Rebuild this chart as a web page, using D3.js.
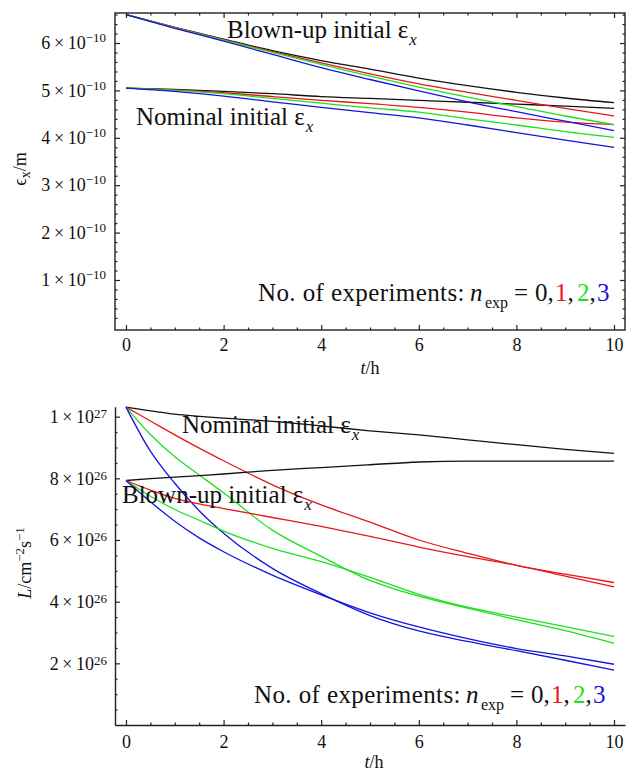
<!DOCTYPE html>
<html lang="en">
<head>
    <meta charset="UTF-8">
    <title>Emittance and luminosity vs. time</title>
    <script src="https://d3js.org/d3.v7.min.js"></script>
    <style>
        body { margin: 0; background: #fff; }
        svg { display: block; font-family: "Liberation Serif", "Times New Roman", serif; }
        .series { fill: none; stroke-width: 1.3px; }
        .frame { fill: none; stroke: #222; stroke-width: 1.4px; }
        .axis .domain { stroke: #222; stroke-width: 1.4px; }
        .axis line { stroke: #222; stroke-width: 1.2px; }
        .axis text { font-size: 18px; fill: #111; }
        .sup { font-size: 13px; }
        .note { font-size: 25px; fill: #111; }
        .legend { font-size: 25px; fill: #111; }
        .sub { font-size: 14px; }
        .title { font-size: 18px; fill: #111; }
    </style>
</head>
<body>
<svg width="626" height="771"></svg>
<script>
    // sample times (h)
    const tTop = [0, 1, 2, 3, 4, 5, 6, 7, 8, 9, 10];
    const tBottom = [0, 0.5, 1, 1.5, 2, 3, 4, 5, 6, 7, 8, 9, 10];

    // horizontal emittance, 1e-10 m, for n_exp = 0..3
    const emitBlown0 = [6.60, 6.33, 6.08, 5.84, 5.63, 5.45, 5.26, 5.10, 4.96, 4.84, 4.74];
    const emitBlown1 = [6.60, 6.33, 6.07, 5.82, 5.58, 5.35, 5.14, 4.96, 4.79, 4.62, 4.46];
    const emitBlown2 = [6.60, 6.32, 6.06, 5.80, 5.55, 5.30, 5.07, 4.86, 4.66, 4.46, 4.28];
    const emitBlown3 = [6.60, 6.31, 6.04, 5.76, 5.48, 5.23, 4.99, 4.76, 4.55, 4.35, 4.15];
    const emitNominal0 = [5.05, 5.02, 4.98, 4.93, 4.87, 4.83, 4.79, 4.75, 4.71, 4.67, 4.62];
    const emitNominal1 = [5.05, 5.01, 4.95, 4.87, 4.79, 4.72, 4.64, 4.54, 4.42, 4.33, 4.28];
    const emitNominal2 = [5.05, 5.00, 4.93, 4.83, 4.73, 4.63, 4.54, 4.40, 4.27, 4.13, 4.01];
    const emitNominal3 = [5.05, 4.98, 4.88, 4.76, 4.64, 4.53, 4.42, 4.27, 4.11, 3.95, 3.80];

    // luminosity, 1e26 cm^-2 s^-1, for n_exp = 0..3
    const lumNominal0 = [10.31, 10.19, 10.08, 10.01, 9.95, 9.85, 9.70, 9.54, 9.41, 9.25, 9.09, 8.94, 8.81];
    const lumNominal1 = [10.31, 9.86, 9.41, 8.98, 8.57, 7.79, 7.14, 6.58, 6.00, 5.57, 5.18, 4.89, 4.62];
    const lumNominal2 = [10.31, 9.42, 8.70, 8.11, 7.53, 6.32, 5.47, 4.69, 4.18, 3.79, 3.42, 3.06, 2.65];
    const lumNominal3 = [10.31, 8.88, 7.84, 6.95, 6.22, 5.08, 4.26, 3.55, 3.05, 2.71, 2.41, 2.10, 1.78];
    const lumBlown0 = [7.93, 7.99, 8.04, 8.09, 8.14, 8.26, 8.35, 8.44, 8.53, 8.56, 8.56, 8.56, 8.56];
    const lumBlown1 = [7.93, 7.62, 7.35, 7.17, 7.02, 6.73, 6.44, 6.12, 5.77, 5.46, 5.18, 4.83, 4.48];
    const lumBlown2 = [7.93, 7.42, 6.99, 6.64, 6.29, 5.73, 5.30, 4.79, 4.24, 3.82, 3.50, 3.19, 2.87];
    const lumBlown3 = [7.93, 7.24, 6.61, 6.07, 5.62, 4.86, 4.22, 3.64, 3.18, 2.80, 2.48, 2.24, 1.97];

    // tick values
    const xMajor = [0, 2, 4, 6, 8, 10];
    const xMinor = [0.5, 1, 1.5, 2.5, 3, 3.5, 4.5, 5, 5.5, 6.5, 7, 7.5, 8.5, 9, 9.5];
    const emitMajor = [1, 2, 3, 4, 5, 6];
    const lumMajor = [2, 4, 6, 8, 10];
    const expLabels = ["0", "1", "2", "3"];

    const expColors = ["#111111", "#e8161b", "#1ee01e", "#1414e0"];
    const serif = "Liberation Serif, Times New Roman, serif";

    const svg = d3.select("svg");

    function sciLabels(g, mant, expo, shift) {
        g.attr("font-family", serif).attr("font-size", 18);
        g.selectAll(".tick text").each(function(d) {
            const t = d3.select(this).text("");
            t.append("tspan").text(mant(d) + "\u2009\u00d7\u200910");
            t.append("tspan").attr("class", "sup").attr("dy", shift).text(expo(d));
        });
    }

    function drawSeries(g, x, y, t, list) {
        const line = d3.line()
            .x((d, i) => x(t[i]))
            .y(d => y(d))
            .curve(d3.curveMonotoneX);
        list.forEach(function(s, i) {
            g.append("path")
                .attr("class", "series")
                .attr("stroke", expColors[i % 4])
                .attr("d", line(s));
        });
    }

    function legend(x0, y0) {
        const digitX = [277, 297, 319, 339];
        const t = svg.append("text").attr("class", "legend").attr("x", x0).attr("y", y0);
        t.append("tspan").style("letter-spacing", "0.4px").text("No. of experiments:");
        t.append("tspan").attr("x", x0 + 212).style("font-style", "italic").text("n");
        t.append("tspan").attr("x", x0 + 227).attr("dy", 7).style("font-size", "16px").text("exp");
        t.append("tspan").attr("x", x0 + 256).attr("dy", -7).text("=");
        expLabels.forEach(function(lab, i) {
            t.append("tspan").attr("x", x0 + digitX[i])
                .attr("fill", expColors[i]).text(lab);
            if (i < 3) t.append("tspan").attr("fill", "#111").text(",");
        });
    }

    function note(x0, y0, label) {
        const t = svg.append("text").attr("class", "note").attr("x", x0).attr("y", y0);
        t.append("tspan").text(label + " initial \u03b5");
        t.append("tspan").attr("dx", 1).attr("dy", 7)
            .style("font-style", "italic").style("font-size", "17px").text("x");
    }

    function plain(g) {
        g.attr("font-family", serif);
        return g;
    }

    // ---------- top panel: emittance ----------
    const xTop = d3.scaleLinear().domain([-0.225, 10.225]).range([115, 625]);
    const yTop = d3.scaleLinear().domain([-0.055, 6.633]).range([330, 13]);

    const gTop = svg.append("g");
    drawSeries(gTop, xTop, yTop, tTop, [emitNominal0, emitNominal1, emitNominal2, emitNominal3]);
    drawSeries(gTop, xTop, yTop, tTop, [emitBlown0, emitBlown1, emitBlown2, emitBlown3]);

    svg.append("rect").attr("class", "frame")
        .attr("x", xTop.range()[0]).attr("y", yTop.range()[1])
        .attr("width", xTop.range()[1] - xTop.range()[0])
        .attr("height", yTop.range()[0] - yTop.range()[1]);

    const emitMinor = d3.range(1, 34).map(v => v / 5).filter(v => Math.abs(v - Math.round(v)) > 0.01);

    plain(svg.append("g").attr("class", "axis").attr("transform", "translate(0,330)")
        .call(d3.axisBottom(xTop).tickValues(xMajor).tickSize(-5).tickSizeOuter(0).tickPadding(8)))
        .attr("font-size", 18);
    svg.append("g").attr("class", "axis").attr("transform", "translate(0,330)")
        .call(d3.axisBottom(xTop).tickValues(xMinor).tickSize(-2.5).tickSizeOuter(0).tickFormat(""));
    svg.append("g").attr("class", "axis").attr("transform", "translate(0,13)")
        .call(d3.axisTop(xTop).tickValues(xMajor).tickSize(-5).tickSizeOuter(0).tickFormat(""));
    svg.append("g").attr("class", "axis").attr("transform", "translate(0,13)")
        .call(d3.axisTop(xTop).tickValues(xMinor).tickSize(-2.5).tickSizeOuter(0).tickFormat(""));

    const leftTop = svg.append("g").attr("class", "axis").attr("transform", "translate(115,0)")
        .call(d3.axisLeft(yTop).tickValues(emitMajor).tickSize(-5).tickSizeOuter(0).tickPadding(9));
    sciLabels(leftTop, d => d, d => "\u221210", -7);
    svg.append("g").attr("class", "axis").attr("transform", "translate(115,0)")
        .call(d3.axisLeft(yTop).tickValues(emitMinor).tickSize(-2.5).tickSizeOuter(0).tickFormat(""));
    svg.append("g").attr("class", "axis").attr("transform", "translate(625,0)")
        .call(d3.axisRight(yTop).tickValues(emitMajor).tickSize(-5).tickSizeOuter(0).tickFormat(""));
    svg.append("g").attr("class", "axis").attr("transform", "translate(625,0)")
        .call(d3.axisRight(yTop).tickValues(emitMinor).tickSize(-2.5).tickSizeOuter(0).tickFormat(""));
    svg.selectAll(".axis .domain").remove();

    note(227, 38, "Blown-up");
    note(136, 125, "Nominal");
    legend(258, 301);

    const yLabTop = svg.append("text").attr("class", "title")
        .attr("transform", "translate(26,169) rotate(-90)").attr("text-anchor", "middle");
    yLabTop.append("tspan").text("\u03f5");
    yLabTop.append("tspan").attr("class", "sub").attr("dy", 4).text("x");
    yLabTop.append("tspan").attr("dy", -4).text("/m");

    const xLabTop = svg.append("text").attr("class", "title")
        .attr("x", 370).attr("y", 374).attr("text-anchor", "middle");
    xLabTop.append("tspan").style("font-style", "italic").text("t");
    xLabTop.append("tspan").text("/h");

    // ---------- bottom panel: luminosity ----------
    const xBot = d3.scaleLinear().domain([-0.225, 10.225]).range([115, 625]);
    const yBot = d3.scaleLinear().domain([0, 10.32]).range([725, 406.8]);

    const gBot = svg.append("g");
    drawSeries(gBot, xBot, yBot, tBottom, [lumNominal0, lumNominal1, lumNominal2, lumNominal3]);
    drawSeries(gBot, xBot, yBot, tBottom, [lumBlown0, lumBlown1, lumBlown2, lumBlown3]);

    const lumMinor = d3.range(1, 21).map(v => v / 2).filter(v => v % 2 !== 0);

    plain(svg.append("g").attr("class", "axis").attr("transform", "translate(0,725)")
        .call(d3.axisBottom(xBot).tickValues(xMajor).tickSize(-5).tickSizeOuter(0).tickPadding(10)))
        .attr("font-size", 18);
    svg.append("g").attr("class", "axis minor").attr("transform", "translate(0,725)")
        .call(d3.axisBottom(xBot).tickValues(xMinor).tickSize(-2.5).tickSizeOuter(0).tickFormat(""));
    const leftBot = svg.append("g").attr("class", "axis").attr("transform", "translate(115,0)")
        .call(d3.axisLeft(yBot).tickValues(lumMajor).tickSize(-5).tickSizeOuter(0).tickPadding(8));
    sciLabels(leftBot, d => (d === 10 ? 1 : d), d => (d === 10 ? "27" : "26"), -5);
    svg.append("g").attr("class", "axis minor").attr("transform", "translate(115,0)")
        .call(d3.axisLeft(yBot).tickValues(lumMinor).tickSize(-2.5).tickSizeOuter(0).tickFormat(""));
    svg.selectAll(".minor .domain").remove();

    note(182, 433, "Nominal");
    note(122, 503, "Blown-up");
    legend(254, 703);

    const yLabBot = svg.append("text").attr("class", "title")
        .attr("transform", "translate(31,563) rotate(-90)").attr("text-anchor", "middle");
    yLabBot.append("tspan").style("font-style", "italic").text("L");
    yLabBot.append("tspan").text("/cm");
    yLabBot.append("tspan").attr("class", "sup").attr("dy", -7).text("\u22122");
    yLabBot.append("tspan").attr("dy", 7).text("s");
    yLabBot.append("tspan").attr("class", "sup").attr("dy", -7).text("\u22121");

    const xLabBot = svg.append("text").attr("class", "title")
        .attr("x", 374).attr("y", 768).attr("text-anchor", "middle");
    xLabBot.append("tspan").style("font-style", "italic").text("t");
    xLabBot.append("tspan").text("/h");
</script>
</body>
</html>
